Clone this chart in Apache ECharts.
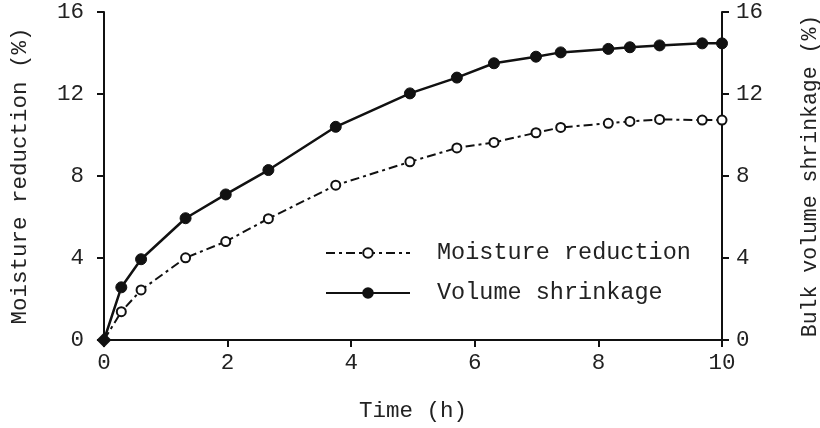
<!DOCTYPE html>
<html>
<head>
<meta charset="utf-8">
<script src="https://cdn.jsdelivr.net/npm/echarts@6/dist/echarts.min.js"></script>
<style>
  html, body { margin: 0; padding: 0; background: #fff; }
  #chart { width: 820px; height: 428px; }
</style>
</head>
<body>
<div id="chart"></div>
<script>
// Drying time (h) and measured quantities (%)
var timeHours = [0, 0.28, 0.6, 1.32, 1.97, 2.66, 3.75, 4.95, 5.71, 6.31, 6.99, 7.39, 8.16, 8.51, 8.99, 9.68, 10];
var moistureReduction = [0, 1.38, 2.44, 4.01, 4.8, 5.92, 7.55, 8.69, 9.37, 9.64, 10.11, 10.37, 10.57, 10.66, 10.76, 10.73, 10.73];
var volumeShrinkage = [0, 2.57, 3.94, 5.94, 7.1, 8.29, 10.4, 12.03, 12.8, 13.5, 13.82, 14.03, 14.2, 14.28, 14.37, 14.47, 14.47];
var xTicks = [0, 2, 4, 6, 8, 10];
var yTicks = [0, 4, 8, 12, 16];

var FONT = '"Liberation Mono", "Courier New", monospace';
var INK = '#111';

function pairs(xs, ys) {
  return xs.map(function (x, i) {
    var p = { value: [x, ys[i]] };
    if (i === 0) { p.symbol = 'diamond'; p.symbolSize = 12; p.itemStyle = { color: INK, borderColor: INK }; }
    return p;
  });
}

var axisText = { color: '#222', fontFamily: FONT, fontSize: 22.5 };

function yAxis(pos, name, gap, labelMargin, nameSize) {
  return {
    type: 'value', position: pos, min: yTicks[0], max: yTicks[yTicks.length - 1], interval: 4,
    name: name, nameLocation: 'middle', nameGap: gap, nameRotate: 90,
    nameTextStyle: { color: '#222', fontFamily: FONT, fontSize: nameSize },
    axisLine: { show: true, lineStyle: { color: INK, width: 2 } },
    axisTick: { show: true, inside: false, length: 7, lineStyle: { color: INK, width: 2 } },
    axisLabel: Object.assign({ margin: labelMargin }, axisText),
    splitLine: { show: false }
  };
}

var chart = echarts.init(document.getElementById('chart'), null, { renderer: 'canvas' });
chart.setOption({
  animation: false,
  backgroundColor: '#fff',
  grid: { left: 104, right: 98, top: 12, bottom: 88, containLabel: false, outerBoundsMode: 'none' },
  xAxis: {
    type: 'value', min: xTicks[0], max: xTicks[xTicks.length - 1], interval: 2,
    name: 'Time (h)', nameLocation: 'middle', nameGap: 60,
    nameTextStyle: { color: '#222', fontFamily: FONT, fontSize: 22.5 },
    axisLine: { show: true, onZero: false, lineStyle: { color: INK, width: 2 } },
    axisTick: { show: true, length: 7, lineStyle: { color: INK, width: 2 } },
    axisLabel: Object.assign({ margin: 12 }, axisText),
    splitLine: { show: false }
  },
  yAxis: [
    yAxis('left', 'Moisture reduction (%)', 72, 20, 22.5),
    yAxis('right', 'Bulk volume shrinkage (%)', 77, 14, 21.5)
  ],
  legend: {
    orient: 'vertical', left: 320, top: 236, itemWidth: 84, itemHeight: 12, itemGap: 16,
    textStyle: { color: '#222', fontFamily: FONT, fontSize: 23.5, lineHeight: 23, padding: [0, 0, 0, 22] },
    data: ['Moisture reduction', 'Volume shrinkage']
  },
  series: [
    {
      name: 'Moisture reduction', type: 'line', yAxisIndex: 0,
      data: pairs(timeHours, moistureReduction),
      symbol: 'circle', symbolSize: 9,
      lineStyle: { color: INK, width: 2, type: [9, 4, 3, 4] },
      itemStyle: { color: '#fff', borderColor: INK, borderWidth: 2 },
      z: 3
    },
    {
      name: 'Volume shrinkage', type: 'line', yAxisIndex: 1,
      data: pairs(timeHours, volumeShrinkage),
      symbol: 'circle', symbolSize: 11,
      lineStyle: { color: INK, width: 2.5 },
      itemStyle: { color: INK, borderColor: INK, borderWidth: 1 },
      z: 4
    }
  ]
});
</script>
</body>
</html>
